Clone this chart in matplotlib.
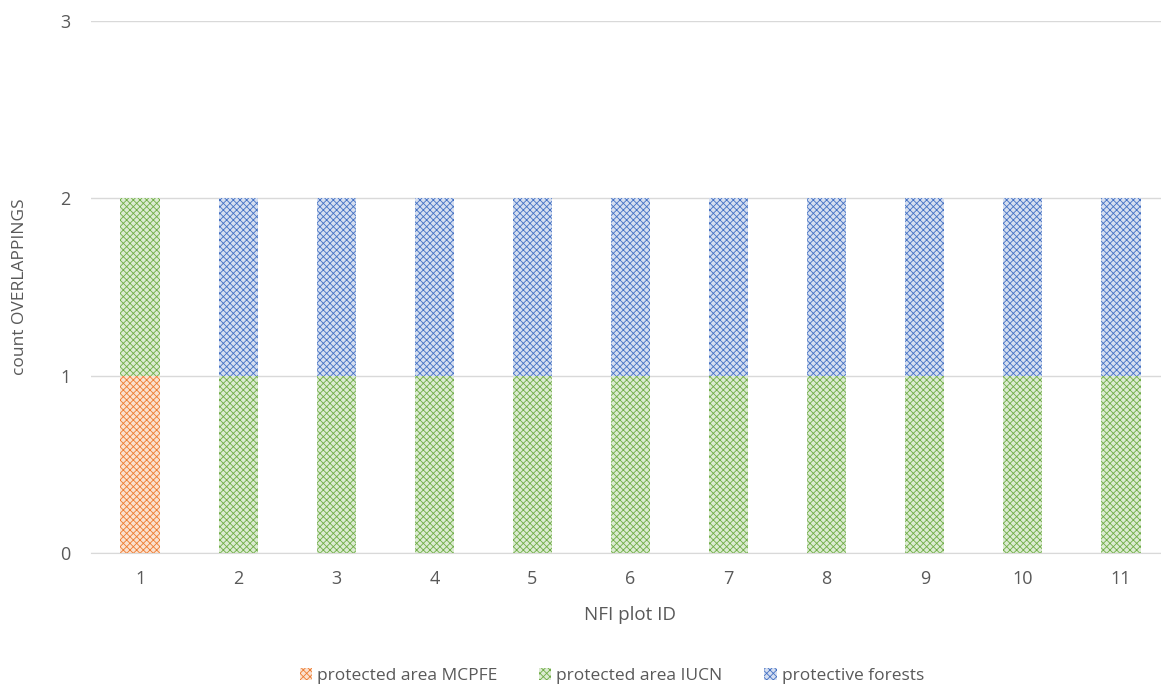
import numpy as np
import matplotlib.pyplot as plt
from matplotlib.patches import Patch

plt.rcParams['font.family'] = ['Open Sans', 'DejaVu Sans']
plt.rcParams['hatch.linewidth'] = 0.6

plot_ids = ["1", "2", "3", "4", "5", "6", "7", "8", "9", "10", "11"]
mcpfe = [1, 0, 0, 0, 0, 0, 0, 0, 0, 0, 0]
iucn = [1, 1, 1, 1, 1, 1, 1, 1, 1, 1, 1]
protective = [0, 1, 1, 1, 1, 1, 1, 1, 1, 1, 1]

series = [("protected area MCPFE", mcpfe, "#ED7D31", "#FBE0CF"),
          ("protected area IUCN", iucn, "#70AD47", "#DCEBD2"),
          ("protective forests", protective, "#4472C4", "#D5DEF0")]

fig = plt.figure(figsize=(11.61, 6.87), dpi=100)
ax = fig.add_axes([91 / 1161, (687 - 553) / 687, 1079 / 1161, 532 / 687])

x = np.arange(len(plot_ids))
bottom = np.zeros(len(plot_ids))
handles = []
for name, vals, col, light in series:
    vals = np.array(vals, dtype=float)
    ax.bar(x, vals, 0.4, bottom=bottom, color=light, edgecolor=col,
           hatch="xxxxx", linewidth=0, zorder=3)
    bottom += vals
    handles.append(Patch(facecolor=light, edgecolor=col, hatch="xxxxx",
                         linewidth=0, label=name))

ax.set_xlim(-0.5, len(plot_ids) - 0.5)
ax.set_ylim(0, 3)
ax.set_yticks([0, 1, 2, 3])
ax.set_xticks(x)
ax.set_xticklabels(plot_ids)
ax.grid(axis="y", color="#D9D9D9", linewidth=1, zorder=0)
for s in ["top", "right", "left"]:
    ax.spines[s].set_visible(False)
ax.spines["bottom"].set_color("#D9D9D9")
ax.tick_params(axis="x", length=0, labelsize=13, colors="#595959", pad=12)
ax.tick_params(axis="y", length=0, labelsize=13, colors="#595959", pad=15)

ax.set_xlabel("NFI plot ID", fontsize=13.5, color="#595959", labelpad=13)
ax.set_ylabel("count OVERLAPPINGS", fontsize=12.5, color="#595959")
ax.yaxis.set_label_coords(-0.058, 0.5)

fig.legend(handles=handles, loc="lower center", bbox_to_anchor=(0.527, -0.018),
           ncol=3, frameon=False, fontsize=12.5, labelcolor="#595959",
           handlelength=0.7, handleheight=0.7, handletextpad=0.3, columnspacing=2.4)

fig.savefig("out.png", dpi=100)
